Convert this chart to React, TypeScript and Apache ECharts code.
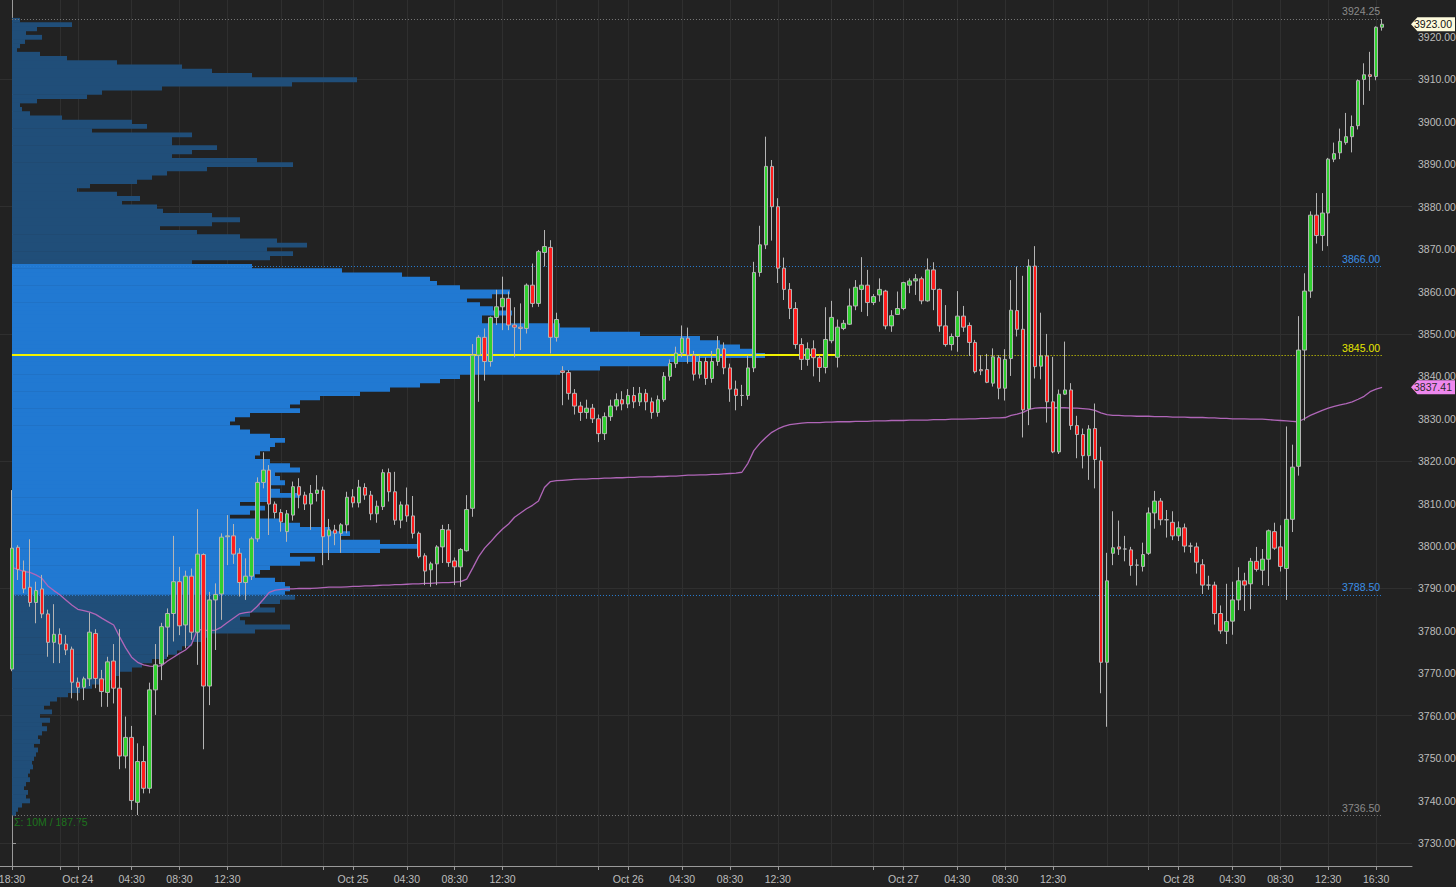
import React, { useEffect, useRef } from "react";
import * as echarts from "echarts";

// ---------- DATA ----------
// 30-minute candles, [open, high, low, close]; index 0 = Oct 23 18:30
const candles: number[][] = [
  // 0-9
  [3771.0, 3813.2, 3770.5, 3799.5], [3799.7, 3800.2, 3792.0, 3794.5], [3794.1, 3796.6, 3788.9, 3789.9], [3790.3, 3801.6, 3785.7, 3786.7], [3786.7, 3791.6, 3781.8, 3789.5],
  [3789.9, 3793.2, 3783.0, 3784.0], [3784.0, 3785.0, 3773.9, 3777.3], [3777.3, 3786.3, 3772.4, 3779.2], [3779.2, 3780.6, 3772.4, 3776.9], [3776.9, 3779.0, 3774.3, 3775.5],
  // 10-19
  [3775.7, 3776.3, 3764.1, 3767.9], [3767.9, 3769.0, 3763.6, 3766.7], [3766.7, 3769.2, 3763.7, 3768.7], [3768.7, 3784.3, 3767.0, 3779.7], [3779.4, 3780.4, 3766.5, 3768.8],
  [3768.7, 3770.8, 3762.1, 3765.7], [3765.5, 3773.9, 3762.1, 3772.7], [3772.9, 3776.9, 3762.9, 3766.5], [3766.5, 3780.4, 3747.4, 3750.5], [3750.5, 3759.8, 3747.6, 3754.9],
  // 20-29
  [3754.9, 3757.6, 3737.8, 3740.0], [3739.6, 3753.5, 3736.6, 3749.2], [3749.2, 3752.9, 3741.7, 3742.9], [3742.9, 3767.8, 3741.7, 3766.1], [3766.1, 3776.9, 3760.2, 3772.0],
  [3772.2, 3781.9, 3768.4, 3781.0], [3780.9, 3785.3, 3773.9, 3784.1], [3784.1, 3802.4, 3777.5, 3791.6], [3791.6, 3795.1, 3779.0, 3781.2], [3781.4, 3794.2, 3775.9, 3792.9],
  // 30-39
  [3792.9, 3794.7, 3777.9, 3779.7], [3779.7, 3808.7, 3772.0, 3798.1], [3798.0, 3798.3, 3752.1, 3767.0], [3767.0, 3789.2, 3762.5, 3787.3], [3787.3, 3791.2, 3775.5, 3788.6],
  [3788.7, 3803.0, 3782.6, 3802.1], [3802.2, 3807.3, 3795.5, 3802.4], [3802.4, 3805.2, 3795.8, 3798.1], [3798.3, 3799.5, 3788.1, 3791.4], [3791.4, 3797.1, 3787.3, 3792.9],
  // 40-49
  [3792.9, 3802.2, 3792.0, 3801.7], [3801.7, 3816.2, 3801.0, 3815.0], [3815.0, 3822.1, 3813.6, 3817.9], [3817.9, 3819.1, 3802.6, 3809.9], [3809.9, 3810.5, 3806.5, 3807.9],
  [3807.9, 3808.7, 3803.4, 3805.7], [3803.4, 3808.5, 3801.0, 3807.6], [3807.3, 3815.2, 3806.0, 3814.0], [3814.0, 3816.0, 3808.9, 3812.0], [3812.0, 3812.8, 3808.5, 3809.9],
  // 50-59
  [3809.9, 3814.4, 3803.8, 3812.4], [3812.4, 3816.7, 3810.5, 3813.2], [3813.2, 3814.0, 3795.5, 3802.2], [3802.4, 3806.4, 3796.7, 3803.8], [3803.8, 3805.0, 3800.2, 3803.0],
  [3803.0, 3805.4, 3798.4, 3805.0], [3805.0, 3812.8, 3803.0, 3811.5], [3811.6, 3813.4, 3809.1, 3810.2], [3810.2, 3815.6, 3809.1, 3813.9], [3813.8, 3814.8, 3810.9, 3812.0],
  // 60-69
  [3812.0, 3813.0, 3806.1, 3807.6], [3807.6, 3810.7, 3805.5, 3809.4], [3809.3, 3818.1, 3808.5, 3817.3], [3817.3, 3818.3, 3810.5, 3812.8], [3812.8, 3817.5, 3805.0, 3806.1],
  [3806.1, 3810.5, 3804.2, 3809.7], [3809.7, 3813.8, 3805.7, 3807.1], [3807.1, 3811.8, 3801.8, 3803.0], [3803.0, 3803.4, 3797.1, 3797.5], [3797.7, 3798.3, 3790.8, 3794.1],
  // 70-79
  [3794.4, 3796.3, 3790.4, 3795.8], [3795.8, 3800.2, 3790.8, 3799.8], [3799.8, 3805.0, 3796.0, 3803.9], [3803.8, 3805.2, 3795.1, 3796.1], [3796.5, 3797.3, 3790.8, 3795.1],
  [3795.1, 3799.5, 3790.4, 3799.2], [3798.9, 3812.0, 3798.7, 3808.6], [3808.9, 3847.6, 3806.9, 3845.0], [3845.0, 3849.7, 3834.0, 3849.2], [3849.2, 3851.3, 3839.0, 3843.5],
  // 80-89
  [3843.5, 3854.1, 3842.3, 3853.9], [3853.9, 3860.4, 3852.1, 3856.4], [3856.4, 3863.5, 3850.9, 3858.4], [3858.4, 3860.0, 3850.9, 3852.1], [3852.1, 3856.3, 3844.5, 3851.6],
  [3851.6, 3857.2, 3846.2, 3851.3], [3851.3, 3861.9, 3850.1, 3861.5], [3861.5, 3866.6, 3856.3, 3857.2], [3857.2, 3869.8, 3856.4, 3869.4], [3869.2, 3874.5, 3865.9, 3870.6],
  // 90-99
  [3870.4, 3872.1, 3845.4, 3849.2], [3849.2, 3855.0, 3848.2, 3853.4], [3841.3, 3842.4, 3833.2, 3840.9], [3840.9, 3841.5, 3834.5, 3836.0], [3836.0, 3837.0, 3831.0, 3833.0],
  [3833.0, 3834.0, 3829.5, 3831.5], [3831.5, 3834.5, 3830.0, 3832.5], [3832.5, 3833.5, 3829.0, 3830.0], [3830.0, 3831.0, 3824.5, 3826.5], [3826.5, 3831.5, 3825.0, 3830.5],
  // 100-109
  [3830.5, 3834.5, 3829.5, 3833.0], [3833.0, 3836.0, 3832.0, 3834.5], [3834.5, 3836.5, 3832.0, 3833.5], [3833.5, 3837.0, 3832.5, 3835.5], [3835.5, 3837.5, 3832.5, 3834.0],
  [3834.0, 3837.5, 3833.0, 3836.0], [3836.0, 3837.0, 3832.0, 3834.0], [3834.0, 3835.0, 3830.0, 3831.5], [3831.5, 3835.5, 3830.5, 3834.5], [3834.5, 3841.0, 3834.0, 3840.0],
  // 110-119
  [3840.0, 3844.0, 3839.0, 3843.0], [3843.0, 3847.0, 3842.0, 3845.5], [3845.5, 3852.0, 3844.5, 3849.0], [3849.0, 3851.5, 3843.0, 3845.0], [3845.0, 3846.0, 3839.0, 3840.5],
  [3840.5, 3845.0, 3839.5, 3843.5], [3843.5, 3844.5, 3838.0, 3839.5], [3839.5, 3846.0, 3838.5, 3843.5], [3843.5, 3849.5, 3842.5, 3846.5], [3846.5, 3848.0, 3840.5, 3842.0],
  // 120-129
  [3842.0, 3843.0, 3834.0, 3837.0], [3837.0, 3839.0, 3832.0, 3835.5], [3835.5, 3838.0, 3833.0, 3835.5], [3835.5, 3845.0, 3834.5, 3842.0], [3842.0, 3867.0, 3841.0, 3864.5],
  [3864.5, 3875.5, 3863.5, 3871.0], [3871.0, 3896.5, 3870.0, 3889.5], [3889.5, 3891.0, 3872.0, 3880.0], [3880.0, 3882.0, 3862.0, 3865.5], [3865.5, 3868.0, 3858.0, 3860.5],
  // 130-139
  [3860.5, 3862.0, 3853.5, 3856.0], [3856.0, 3857.5, 3846.5, 3847.5], [3847.5, 3849.0, 3841.5, 3844.0], [3844.0, 3848.0, 3842.5, 3846.5], [3846.5, 3848.5, 3840.0, 3844.4],
  [3844.4, 3845.0, 3838.7, 3842.1], [3842.1, 3856.3, 3840.7, 3848.7], [3848.4, 3857.8, 3847.8, 3853.9], [3844.5, 3853.4, 3842.1, 3851.6], [3851.3, 3853.3, 3850.9, 3852.5],
  // 140-149
  [3852.3, 3860.7, 3852.1, 3856.6], [3856.6, 3862.7, 3855.6, 3861.0], [3860.5, 3868.1, 3855.2, 3861.5], [3861.5, 3865.1, 3854.2, 3857.4], [3857.4, 3859.4, 3856.8, 3858.8],
  [3859.2, 3863.1, 3857.6, 3860.5], [3860.1, 3860.4, 3851.1, 3851.9], [3851.9, 3855.6, 3850.5, 3854.3], [3854.6, 3860.0, 3854.5, 3856.0], [3856.0, 3862.3, 3855.6, 3862.1],
  // 150-159
  [3861.5, 3863.1, 3859.6, 3862.5], [3862.5, 3864.1, 3859.2, 3863.0], [3863.0, 3863.5, 3857.0, 3857.8], [3857.8, 3867.8, 3857.6, 3865.1], [3865.1, 3866.9, 3855.6, 3860.5],
  [3860.5, 3860.7, 3850.5, 3851.9], [3851.9, 3856.8, 3847.0, 3847.5], [3847.5, 3850.1, 3846.1, 3849.4], [3849.4, 3860.1, 3845.8, 3854.2], [3854.2, 3856.6, 3850.5, 3851.6],
  // 160-169
  [3852.0, 3852.7, 3844.8, 3848.0], [3848.0, 3848.6, 3840.7, 3841.1], [3841.6, 3845.0, 3840.3, 3841.3], [3841.6, 3845.3, 3838.4, 3838.6], [3838.4, 3846.6, 3837.6, 3844.6],
  [3844.4, 3845.0, 3834.6, 3837.2], [3837.2, 3846.4, 3834.3, 3844.0], [3844.2, 3862.7, 3840.1, 3855.6], [3855.5, 3865.9, 3849.4, 3851.1], [3851.1, 3863.7, 3825.6, 3832.1],
  // 170-179
  [3832.3, 3867.6, 3828.5, 3866.0], [3866.0, 3870.7, 3839.5, 3842.3], [3842.4, 3855.0, 3839.3, 3844.8], [3844.8, 3850.0, 3829.1, 3834.0], [3834.0, 3844.6, 3821.9, 3822.2],
  [3822.2, 3836.9, 3821.7, 3835.8], [3835.8, 3848.2, 3835.6, 3836.8], [3836.8, 3838.4, 3827.4, 3828.4], [3828.4, 3830.7, 3820.7, 3826.3], [3826.3, 3827.7, 3818.3, 3821.3],
  // 180-189
  [3821.3, 3828.5, 3815.6, 3827.6], [3827.7, 3833.6, 3813.6, 3820.4], [3820.1, 3823.4, 3765.3, 3772.6], [3772.6, 3798.4, 3757.4, 3791.8], [3798.3, 3808.2, 3795.5, 3799.6],
  [3799.8, 3806.0, 3797.9, 3799.3], [3799.3, 3802.4, 3796.4, 3799.3], [3799.1, 3799.8, 3793.0, 3795.4], [3795.5, 3796.9, 3790.7, 3795.5], [3795.2, 3800.8, 3794.0, 3798.0],
  // 190-199
  [3798.3, 3809.1, 3797.9, 3807.8], [3807.8, 3813.0, 3804.1, 3810.6], [3810.6, 3811.3, 3804.9, 3806.2], [3806.2, 3808.5, 3802.0, 3806.2], [3805.6, 3808.2, 3801.4, 3802.4],
  [3802.4, 3805.8, 3801.2, 3804.3], [3804.3, 3805.3, 3798.5, 3800.0], [3800.0, 3800.8, 3798.4, 3800.0], [3799.8, 3800.8, 3793.5, 3796.2], [3795.6, 3796.9, 3788.7, 3790.8],
  // 200-209
  [3790.8, 3793.0, 3789.7, 3790.8], [3790.8, 3791.6, 3781.5, 3784.1], [3784.1, 3786.0, 3779.3, 3780.0], [3779.9, 3791.1, 3776.9, 3782.2], [3782.3, 3791.6, 3779.1, 3787.3],
  [3787.3, 3795.0, 3784.9, 3791.8], [3791.8, 3793.7, 3784.7, 3790.8], [3791.1, 3797.2, 3785.1, 3796.4], [3796.4, 3799.8, 3794.0, 3794.5], [3794.3, 3799.3, 3790.8, 3796.9],
  // 210-219
  [3796.9, 3803.9, 3790.6, 3803.6], [3803.4, 3805.5, 3799.1, 3799.5], [3799.8, 3804.9, 3794.0, 3795.2], [3794.7, 3828.2, 3787.3, 3806.3], [3806.3, 3823.9, 3803.3, 3818.6],
  [3818.8, 3854.2, 3816.6, 3846.2], [3846.2, 3864.3, 3829.6, 3860.1], [3860.1, 3878.9, 3858.5, 3878.0], [3878.0, 3883.2, 3871.3, 3873.2], [3873.2, 3883.2, 3869.6, 3878.5],
  // 220-229
  [3878.5, 3891.5, 3870.7, 3891.2], [3891.2, 3895.1, 3890.5, 3892.5], [3892.7, 3898.4, 3891.2, 3895.4], [3895.1, 3902.1, 3894.6, 3896.5], [3896.5, 3901.5, 3892.8, 3898.9],
  [3899.1, 3910.0, 3898.2, 3909.7], [3910.0, 3913.8, 3904.0, 3911.1], [3911.1, 3916.5, 3907.3, 3910.7], [3910.7, 3922.5, 3909.8, 3922.3], [3922.3, 3924.25, 3921.5, 3923.0],
];

// VWAP per candle
const vwap: number[] = [
  3795.0, 3794.5, 3794.0, 3793.8, 3793.2, 3792.4, 3790.6, 3789.5, 3788.5, 3787.3,
  3786.1, 3785.1, 3784.8, 3784.4, 3783.9, 3783.0, 3782.2, 3781.4, 3778.6, 3776.0,
  3773.8, 3772.6, 3772.0, 3771.7, 3771.6, 3771.8, 3772.9, 3773.8, 3774.7, 3775.5,
  3776.8, 3780.4, 3780.1, 3780.1, 3780.2, 3780.9, 3782.0, 3783.0, 3784.0, 3784.3,
  3784.5, 3785.8, 3787.4, 3789.1, 3789.6, 3789.8, 3789.9, 3789.9, 3790.0, 3790.0,
  3790.0, 3790.1, 3790.2, 3790.3, 3790.3, 3790.3, 3790.4, 3790.5, 3790.5, 3790.6,
  3790.6, 3790.7, 3790.8, 3790.8, 3790.9, 3790.9, 3791.0, 3791.1, 3791.1, 3791.2,
  3791.2, 3791.3, 3791.4, 3791.4, 3791.5, 3791.6, 3792.2, 3794.8, 3797.5, 3799.5,
  3801.0, 3802.6, 3804.0, 3805.2, 3806.8, 3807.8, 3808.8, 3809.6, 3810.6, 3813.8,
  3815.2, 3815.4, 3815.5, 3815.6, 3815.7, 3815.8, 3815.8, 3815.9, 3815.9, 3816.0,
  3816.0, 3816.1, 3816.1, 3816.2, 3816.2, 3816.3, 3816.3, 3816.3, 3816.4, 3816.4,
  3816.5, 3816.5, 3816.6, 3816.7, 3816.7, 3816.8, 3816.8, 3816.9, 3816.9, 3817.0,
  3817.1, 3817.2, 3817.4, 3819.5, 3822.5, 3824.2, 3825.6, 3826.8, 3827.6, 3828.2,
  3828.6, 3828.8, 3829.0, 3829.1, 3829.1, 3829.1, 3829.2, 3829.2, 3829.3, 3829.3,
  3829.3, 3829.4, 3829.4, 3829.4, 3829.5, 3829.5, 3829.5, 3829.6, 3829.6, 3829.6,
  3829.7, 3829.7, 3829.7, 3829.7, 3829.8, 3829.8, 3829.8, 3829.9, 3829.9, 3829.9,
  3830.0, 3830.0, 3830.1, 3830.1, 3830.2, 3830.2, 3830.3, 3830.8, 3831.1, 3831.5,
  3832.2, 3832.5, 3832.6, 3832.6, 3832.6, 3832.6, 3832.6, 3832.5, 3832.5, 3832.4,
  3832.3, 3832.0, 3831.4, 3831.0, 3830.8, 3830.8, 3830.7, 3830.7, 3830.6, 3830.6,
  3830.6, 3830.5, 3830.5, 3830.5, 3830.4, 3830.4, 3830.4, 3830.3, 3830.3, 3830.3,
  3830.2, 3830.2, 3830.1, 3830.1, 3830.0, 3830.0, 3830.0, 3829.9, 3829.9, 3829.9,
  3829.8, 3829.7, 3829.6, 3829.5, 3829.4, 3829.3, 3830.0, 3830.8, 3831.4, 3832.0,
  3832.5, 3832.9, 3833.3, 3833.6, 3834.0, 3834.6, 3835.3, 3836.4, 3837.0, 3837.41,
];

// Volume profile: 1-point price bins from profileTop downward (relative volume)
const profileTop = 3924;
const profileVolume: number[] = [
  8, 60, 25, 14, 30, 13, 8, 5, 28, 55, // 3924-3915
  105, 170, 200, 240, 345, 280, 150, 90, 75, 25, // 3914-3905
  8, 10, 18, 50, 120, 135, 80, 180, 160, 160, // 3904-3895
  205, 180, 160, 245, 281, 195, 155, 140, 125, 78, // 3894-3885
  65, 105, 128, 110, 145, 151, 200, 228, 200, 148, // 3884-3875
  185, 228, 265, 295, 255, 281, 258, 180, 240, 330, // 3874-3865
  390, 418, 425, 448, 498, 480, 455, 468, 481, 500, // 3864-3855
  470, 470, 548, 578, 628, 688, 708, 728, 743, 753, // 3854-3845
  688, 658, 588, 548, 448, 428, 408, 378, 348, 308, // 3844-3835
  288, 278, 288, 238, 223, 218, 228, 238, 258, 273, // 3834-3825
  263, 258, 248, 243, 258, 278, 288, 263, 268, 273, // 3824-3815
  258, 268, 288, 258, 228, 253, 238, 218, 268, 288, // 3814-3805
  318, 338, 328, 368, 408, 368, 278, 303, 288, 258, // 3804-3795
  248, 243, 263, 273, 278, 273, 283, 268, 248, 263, // 3794-3785
  238, 228, 233, 278, 243, 200, 190, 180, 170, 165, // 3784-3775
  155, 140, 130, 120, 108, 100, 90, 80, 68, 56, // 3774-3765
  45, 38, 32, 40, 28, 38, 30, 35, 30, 26, // 3764-3755
  28, 22, 26, 24, 22, 20, 21, 18, 16, 18, // 3754-3745
  14, 12, 16, 14, 18, 10, 6, 4, // 3744-3737
];
const valueAreaHigh = 3866.0;
const valueAreaLow = 3788.5;
const pocPrice = 3845.0;
const rangeHigh = 3924.25;
const rangeLow = 3736.5;
const lastPrice = 3923.0;
const lastVwap = 3837.41;

// x-axis ticks (candle indices) and labels
const xLabelIndex = [0, 11, 20, 28, 36, 57, 66, 74, 82, 103, 112, 120, 128, 149, 158, 166, 174, 195, 204, 212, 220, 228];
const xLabelText = ["18:30", "Oct 24", "04:30", "08:30", "12:30", "Oct 25", "04:30", "08:30", "12:30", "Oct 26", "04:30", "08:30", "12:30", "Oct 27", "04:30", "08:30", "12:30", "Oct 28", "04:30", "08:30", "12:30", "16:30"];
const xMinorTickIndex = [8, 52, 98, 144, 190];
const sessionEndIndex = [45, 91, 137, 183];

// y-axis
const yLabelValues = [3730, 3740, 3750, 3760, 3770, 3780, 3790, 3800, 3810, 3820, 3830, 3840, 3850, 3860, 3870, 3880, 3890, 3900, 3910, 3920];
const yGridValues = [3730, 3760, 3790, 3820, 3850, 3880, 3910];

// ---------- CHART ----------
const LEAD = 2; // empty slots before the first candle
const SLOTS = 237;
const FONT = '"Liberation Sans Narrow", "Arial Narrow", "Liberation Sans", Arial, sans-serif';

export default function App() {
  const ref = useRef<HTMLDivElement>(null);

  useEffect(() => {
    if (!ref.current) return;
    const chart = echarts.init(ref.current, undefined, { renderer: "svg" });

    const slotLabels: string[] = new Array(SLOTS).fill("");
    xLabelIndex.forEach((ci, j) => { slotLabels[ci + LEAD] = xLabelText[j]; });
    const tickSet = new Set<number>([...xLabelIndex, ...xMinorTickIndex].map((v) => v + LEAD));
    const gridSet = new Set<number>([...xLabelIndex, ...xMinorTickIndex, ...sessionEndIndex].map((v) => v + LEAD));

    const candleRows = candles.map((c, i) => [i + LEAD, c[0], c[3], c[2], c[1]]);
    const vwapRows = vwap.map((v, i) => [i + LEAD, v]);
    const profileRows = profileVolume.map((v, j) => [profileTop - j, v]);

    const firstK = LEAD;
    const lastK = LEAD + candles.length - 1;
    const pocSolidEndK = LEAD + 138;

    const levelLabel = (txt: string, color: string) => ({
      show: true,
      position: "insideEndTop",
      formatter: txt,
      color,
      fontSize: 10.5,
      fontFamily: FONT,
      distance: 2,
    });
    const dotted = [1, 2];

    const option: any = {
      animation: false,
      backgroundColor: "#222222",
      textStyle: { fontFamily: FONT },
      grid: { left: 0, right: 44, top: 0, bottom: 21, containLabel: false, outerBoundsMode: "none" },
      xAxis: [
        {
          type: "category",
          data: slotLabels,
          boundaryGap: false,
          axisLine: { show: true, lineStyle: { color: "#9a9a9a", width: 1 } },
          axisTick: { show: true, length: 4, interval: (idx: number) => tickSet.has(idx), lineStyle: { color: "#9a9a9a" } },
          axisLabel: { show: true, interval: 0, color: "#bdbdbd", fontSize: 10.5, fontFamily: FONT, margin: 7, hideOverlap: false },
          splitLine: { show: true, interval: (idx: number) => gridSet.has(idx), lineStyle: { color: "#2f2f2f", width: 1 } },
        },
        { type: "value", show: false, min: -12, max: 1400, gridIndex: 0 },
      ],
      yAxis: {
        type: "value",
        position: "right",
        min: 3724.58,
        max: 3928.72,
        scale: true,
        axisLine: { show: true, lineStyle: { color: "#9a9a9a", width: 1 } },
        axisTick: { show: true, length: 4, customValues: yLabelValues, lineStyle: { color: "#9a9a9a" } },
        axisLabel: {
          show: true,
          customValues: yLabelValues,
          formatter: (v: number) => v.toFixed(2),
          color: "#bdbdbd",
          fontSize: 10.5,
          fontFamily: FONT,
          margin: 6,
        },
        splitLine: { show: false },
      },
      graphic: [
        {
          type: "text",
          left: 14,
          top: 816,
          style: { text: "Σ: 10M / 187.75", fill: "#1d741d", fontSize: 10.5, fontFamily: FONT },
          silent: true,
        },
      ],
      series: [
        {
          name: "grid",
          type: "line",
          data: [],
          z: 0,
          silent: true,
          markLine: {
            z: 0,
            silent: true,
            symbol: "none",
            label: { show: false },
            lineStyle: { color: "#2f2f2f", type: "solid", width: 1 },
            data: yGridValues.map((v) => ({ yAxis: v })),
          },
        },
        {
          name: "profile",
          type: "custom",
          xAxisIndex: 1,
          yAxisIndex: 0,
          z: 1,
          silent: true,
          encode: { x: 1, y: 0 },
          data: profileRows,
          renderItem: (params: any, api: any) => {
            const price = api.value(0) as number;
            const vol = api.value(1) as number;
            const tl = api.coord([0, price + 0.5]);
            const br = api.coord([vol, price - 0.5]);
            const inVA = price >= valueAreaLow && price <= valueAreaHigh;
            return {
              type: "rect",
              shape: { x: tl[0], y: tl[1], width: br[0] - tl[0], height: br[1] - tl[1] + 0.6 },
              style: { fill: inVA ? "#2179d2" : "#204e79" },
            };
          },
        },
        {
          name: "levels",
          type: "line",
          data: [],
          z: 3,
          silent: true,
          clip: false,
          markLine: {
            z: 3,
            silent: true,
            symbol: "none",
            data: [
              [
                { coord: [firstK, rangeHigh], lineStyle: { color: "#7a7a7a", type: dotted, width: 1 }, label: levelLabel(rangeHigh.toFixed(2), "#8a8a8a") },
                { coord: [lastK, rangeHigh] },
              ],
              [
                { coord: [firstK, valueAreaHigh], lineStyle: { color: "#2a7fd4", type: dotted, width: 1 }, label: levelLabel(valueAreaHigh.toFixed(2), "#3b8fe6") },
                { coord: [lastK, valueAreaHigh] },
              ],
              [
                { coord: [firstK, pocPrice], lineStyle: { color: "#f2f200", type: "solid", width: 2 }, label: { show: false } },
                { coord: [pocSolidEndK, pocPrice] },
              ],
              [
                { coord: [pocSolidEndK, pocPrice], lineStyle: { color: "#e6e600", type: dotted, width: 1 }, label: levelLabel(pocPrice.toFixed(2), "#e6e600") },
                { coord: [lastK, pocPrice] },
              ],
              [
                { coord: [firstK, valueAreaLow], lineStyle: { color: "#2a7fd4", type: dotted, width: 1 }, label: levelLabel(valueAreaLow.toFixed(2), "#3b8fe6") },
                { coord: [lastK, valueAreaLow] },
              ],
              [
                { coord: [firstK, rangeLow], lineStyle: { color: "#7a7a7a", type: dotted, width: 1 }, label: levelLabel(rangeLow.toFixed(2), "#8a8a8a") },
                { coord: [lastK, rangeLow] },
              ],
            ],
          },
          markPoint: {
            z: 6,
            silent: true,
            symbol: "path://M0,7L7,0L48,0L48,14L7,14Z",
            symbolSize: [44, 14],
            symbolKeepAspect: false,
            symbolOffset: [21, 0],
            label: { show: true, position: "inside", offset: [0, 0], fontSize: 10.5, fontFamily: FONT, color: "#111" },
            data: [
              { coord: [SLOTS - 1, lastPrice], value: lastPrice.toFixed(2), itemStyle: { color: "#fdfadc" }, label: { color: "#111", formatter: lastPrice.toFixed(2) } },
              { coord: [SLOTS - 1, lastVwap], value: lastVwap.toFixed(2), itemStyle: { color: "#ee88ee" }, label: { color: "#2a2a2a", formatter: lastVwap.toFixed(2) } },
            ],
          },
        },
        {
          name: "VWAP",
          type: "line",
          data: vwapRows,
          z: 4,
          silent: true,
          showSymbol: false,
          symbol: "none",
          lineStyle: { color: "#b066b8", width: 1.3 },
        },
        {
          name: "price",
          type: "candlestick",
          data: candleRows,
          encode: { x: 0, y: [1, 2, 3, 4] },
          z: 5,
          barWidth: 4,
          silent: true,
          itemStyle: {
            color: "#30d030",
            color0: "#ff1c1c",
            borderColor: "#b4b4b4",
            borderColor0: "#b4b4b4",
            borderWidth: 1,
          },
        },
      ],
    };

    chart.setOption(option);
    return () => chart.dispose();
  }, []);

  return (
    <div
      ref={ref}
      style={{ position: "fixed", left: 0, top: 0, width: 1456, height: 887, background: "#222222" }}
    />
  );
}
